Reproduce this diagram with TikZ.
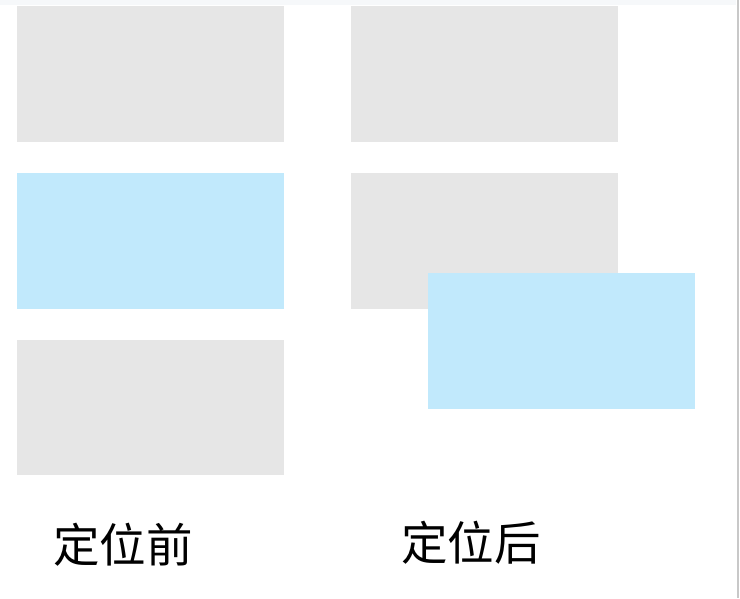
\documentclass[tikz,border=0pt]{standalone}
\usepackage{fontspec}
\newfontfamily\cjk{Noto Sans CJK SC}
\definecolor{boxgray}{HTML}{E6E6E6}
\definecolor{boxblue}{HTML}{C1E9FC}
\definecolor{edgegray}{HTML}{C8C8C8}
\definecolor{topband}{HTML}{F6F8FA}
\begin{document}
\begin{tikzpicture}[x=1pt,y=-1pt,
  gbox/.style={fill=boxgray,draw=none},
  bbox/.style={fill=boxblue,draw=none},
  lbl/.style={font=\cjk\fontsize{46.5}{50}\selectfont,text=black,inner sep=0pt}]
\useasboundingbox (0,0) rectangle (740,598);
\fill[white] (0,0) rectangle (740,598);
\fill[topband] (0,0) rectangle (736,5);
\fill[edgegray] (737,0) rectangle (739,598);
% before
\path[gbox] (17,6) rectangle (284,142);
\path[bbox] (17,173) rectangle (284,309);
\path[gbox] (17,340) rectangle (284,475);
% after
\path[gbox] (351,6) rectangle (618,142);
\path[gbox] (351,173) rectangle (618,309);
\path[bbox] (428,273) rectangle (695,409);
\node[lbl] (before) at (123,545) {定位前};
\node[lbl] (after) at (471,543) {定位后};
\end{tikzpicture}
\end{document}
